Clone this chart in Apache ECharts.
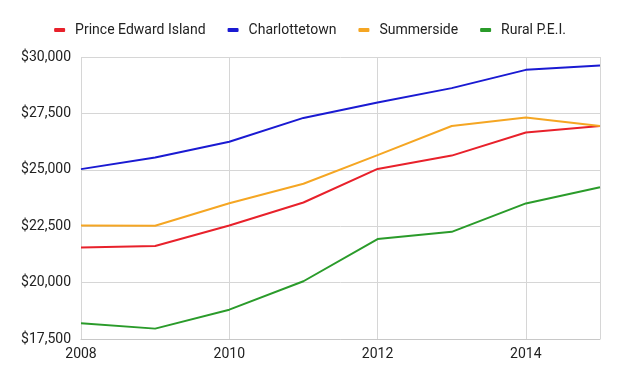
<!DOCTYPE html>
<html>
<head>
<meta charset="utf-8">
<script src="https://cdn.jsdelivr.net/npm/echarts@6/dist/echarts.min.js"></script>
<style>html,body{margin:0;padding:0;background:#fff}#c{width:620px;height:383px}</style>
</head>
<body>
<div id="c"></div>
<script>
const years = [2008, 2009, 2010, 2011, 2012, 2013, 2014, 2015];
const seriesNames = ["Prince Edward Island", "Charlottetown", "Summerside", "Rural P.E.I."];
const princeEdwardIsland = [21560, 21620, 22530, 23550, 25040, 25630, 26650, 26940];
const charlottetown = [25030, 25545, 26240, 27300, 27980, 28620, 29430, 29620];
const summerside = [22530, 22520, 23520, 24380, 25650, 26940, 27320, 26940];
const ruralPEI = [18200, 17960, 18800, 20060, 21930, 22250, 23510, 24230];
const colors = ["#e8212b", "#1a1ad2", "#f5a623", "#2a9b2a"];

const allValues = [princeEdwardIsland, charlottetown, summerside, ruralPEI];
const chart = echarts.init(document.getElementById('c'));
const font = 'Roboto, "Noto Sans", sans-serif';
chart.setOption({
  animation: false,
  textStyle: { fontFamily: font },
  color: colors,
  legend: {
    top: 18,
    left: 'center',
    itemWidth: 11,
    itemHeight: 4,
    itemGap: 22,
    icon: 'roundRect',
    formatter: n => '{t|' + n + '}',
    textStyle: {
      fontSize: 14, color: '#222', fontFamily: font,
      rich: { t: { fontSize: 14, color: '#222', fontFamily: font, padding: [0, 0, 0, 5] } }
    },
    data: seriesNames
  },
  grid: { left: 81, right: 20, top: 57, bottom: 44 },
  xAxis: {
    type: 'value',
    min: 2008, max: 2015, interval: 2,
    axisLine: { show: true, lineStyle: { color: '#c8c8c8' } },
    axisTick: { show: false },
    axisLabel: { color: '#222', fontSize: 14, margin: 8, showMaxLabel: false, formatter: v => String(v) },
    splitLine: { show: true, lineStyle: { color: '#d6d6d6' } }
  },
  yAxis: {
    type: 'value',
    min: 17500, max: 30000, interval: 2500,
    axisLine: { show: false },
    axisTick: { show: false },
    axisLabel: { color: '#222', fontSize: 14, margin: 10,
      formatter: v => '$' + v.toLocaleString('en-US') },
    splitLine: { show: true, lineStyle: { color: '#d6d6d6' } }
  },
  series: seriesNames.map((n, i) => ({
    name: n,
    type: 'line',
    data: years.map((y, j) => [y, allValues[i][j]]),
    showSymbol: false,
    symbol: 'none',
    lineStyle: { width: 2, color: colors[i] },
    itemStyle: { color: colors[i] }
  }))
});
</script>
</body>
</html>
